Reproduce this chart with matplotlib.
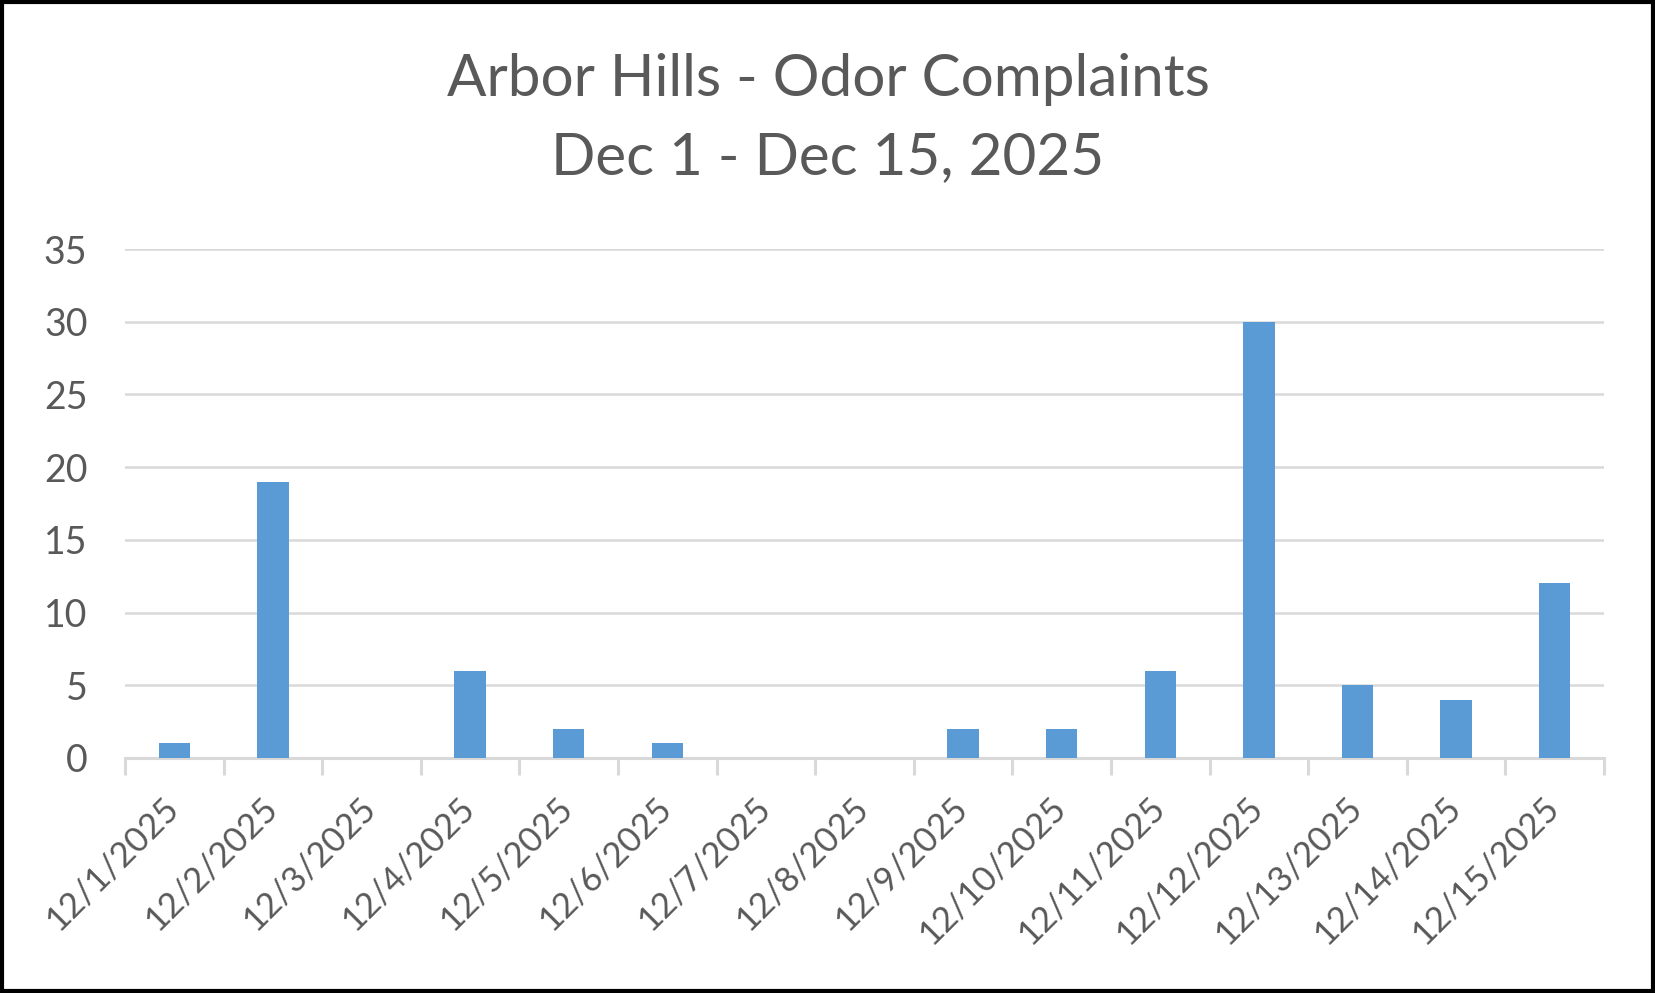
import numpy as np
from matplotlib import pyplot as plt
from matplotlib.patches import Rectangle

# data
dates = ['12/1/2025', '12/2/2025', '12/3/2025', '12/4/2025', '12/5/2025',
         '12/6/2025', '12/7/2025', '12/8/2025', '12/9/2025', '12/10/2025',
         '12/11/2025', '12/12/2025', '12/13/2025', '12/14/2025', '12/15/2025']
complaints = [1, 19, 0, 6, 2, 1, 0, 0, 2, 2, 6, 30, 5, 4, 12]
yticks = [0, 5, 10, 15, 20, 25, 30, 35]

plt.rcParams['font.family'] = ['Lato', 'DejaVu Sans']
txt = '#595959'
grid = '#D9D9D9'

fig = plt.figure(figsize=(16.56, 9.93), dpi=100)
ax = fig.add_axes([125 / 1656, 1 - 758 / 993, (1604 - 125) / 1656, (758 - 249) / 993])

x = np.arange(len(dates))
ax.bar(x, complaints, width=0.32, color='#5B9BD5', zorder=3)

ax.set_xlim(-0.5, len(dates) - 0.5)
ax.set_ylim(0, 35)
ax.set_yticks(yticks)
ax.set_yticklabels([str(v) for v in yticks], fontsize=27, color=txt)
ax.tick_params(axis='y', length=0, pad=27)
ax.yaxis.grid(True, color=grid, linewidth=1.8, zorder=0)

# category labels centred on bars, ticks at the boundaries
ax.set_xticks(np.arange(len(dates) + 1) - 0.5)
ax.set_xticklabels([])
ax.tick_params(axis='x', length=12, width=2.2, color=grid)
for i, d in enumerate(dates):
    ax.annotate(d, xy=(i, 0), xycoords=('data', 'axes fraction'),
                xytext=(-9, -24), textcoords='offset points',
                rotation=45, ha='right', va='top', rotation_mode='anchor',
                fontsize=25, color=txt)

for s in ['top', 'right', 'left']:
    ax.spines[s].set_visible(False)
ax.spines['bottom'].set_color(grid)
ax.spines['bottom'].set_linewidth(2.2)

fig.text(0.5, 1 - 80 / 993, 'Arbor Hills - Odor Complaints', ha='center', va='center',
         fontsize=42, color=txt)
fig.text(0.5, 1 - 158 / 993, 'Dec 1 - Dec 15, 2025', ha='center', va='center',
         fontsize=42, color=txt)

# black frame around the chart
fig.patches.append(Rectangle((0.001, 0.002), 0.997, 0.996, transform=fig.transFigure,
                             fill=False, edgecolor='black', linewidth=3))

fig.savefig('out.png', dpi=100)
